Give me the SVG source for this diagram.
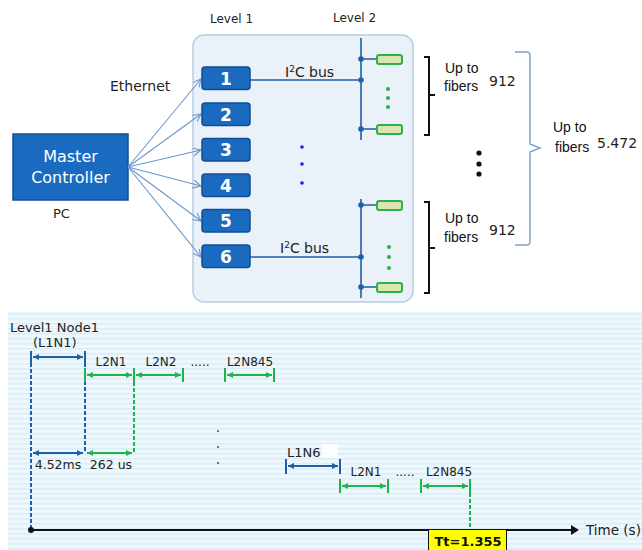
<svg xmlns="http://www.w3.org/2000/svg" width="642" height="550" viewBox="0 0 642 550">
<style>
.t{font-family:"DejaVu Sans",Verdana,sans-serif;fill:#222}
.s{font-family:"Liberation Sans",Arial,sans-serif;fill:#111}
.nd{fill:#1a6bc0;stroke:#0f4f94;stroke-width:1.5}
.nt{font-family:"DejaVu Sans",Verdana,sans-serif;font-weight:bold;font-size:17px;fill:#fff;text-anchor:middle}
.leaf{fill:#d9e6b0;stroke:#2bb14a;stroke-width:2}
.bus{stroke:#1f5fa8;stroke-width:1.6;fill:none}
.fan{stroke:#6b98c9;stroke-width:1.1;fill:none;marker-end:url(#oa)}
.bd{stroke:#1f5fa8;stroke-width:2;fill:none}
.gd{stroke:#22b14c;stroke-width:2;fill:none}
.bda{stroke:#1f5fa8;stroke-width:2;fill:none;marker-start:url(#ab);marker-end:url(#ab)}
.gda{stroke:#22b14c;stroke-width:2;fill:none;marker-start:url(#ag);marker-end:url(#ag)}
.dash{stroke-dasharray:4 2}
</style>
<defs>
<marker id="oa" markerWidth="10" markerHeight="10" refX="8" refY="4" orient="auto" markerUnits="userSpaceOnUse">
<path d="M0,0 L8,4 L0,8" fill="none" stroke="#6b98c9" stroke-width="1.1"/>
</marker>
<marker id="ab" markerWidth="7" markerHeight="6" refX="6" refY="3" orient="auto-start-reverse" markerUnits="userSpaceOnUse">
<path d="M0,0 L6,3 L0,6 z" fill="#1f5fa8"/>
</marker>
<marker id="ag" markerWidth="7" markerHeight="6" refX="6" refY="3" orient="auto-start-reverse" markerUnits="userSpaceOnUse">
<path d="M0,0 L6,3 L0,6 z" fill="#22b14c"/>
</marker>
<marker id="ta" markerWidth="9" markerHeight="10" refX="1" refY="5" orient="auto" markerUnits="userSpaceOnUse">
<path d="M0,0 L8,5 L0,10 z" fill="#111"/>
</marker>
<pattern id="stripes" width="8" height="5" patternUnits="userSpaceOnUse">
<rect width="8" height="5" fill="#eef8fc"/>
<rect y="3" width="8" height="1.5" fill="#d9eef7"/>
</pattern>
</defs>
<rect width="642" height="550" fill="#fff"/>
<rect x="8" y="312" width="634" height="238" fill="url(#stripes)"/>

<!-- top labels -->
<text class="t" x="210" y="23" font-size="12">Level 1</text>
<text class="t" x="333" y="22" font-size="12">Level  2</text>
<text class="t" x="110" y="91" font-size="14">Ethernet</text>

<g id="panel">
<rect x="193" y="35" width="220" height="267" rx="11" fill="#eaf1f9" stroke="#b7cde3" stroke-width="1.5"/>
</g>

<g id="master">
<rect class="nd" x="13" y="134" width="115" height="66"/>
<text x="70.5" y="162" font-family="DejaVu Sans,Verdana,sans-serif" font-size="16" fill="#fff" text-anchor="middle">Master</text>
<text x="70.5" y="183" font-family="DejaVu Sans,Verdana,sans-serif" font-size="16" fill="#fff" text-anchor="middle">Controller</text>
<text class="t" x="53" y="218" font-size="13">PC</text>
</g>

<g id="connectors">
<path class="fan" d="M128,167 L201,79"/>
<path class="fan" d="M128,167 L201,114"/>
<path class="fan" d="M128,167 L201,150"/>
<path class="fan" d="M128,167 L201,186"/>
<path class="fan" d="M128,167 L201,221"/>
<path class="fan" d="M128,167 L201,257"/>
<path class="bus" d="M250,80 H361 M361,38 V140 M361,59 H377 M361,129 H377"/>
<path class="bus" d="M250,257 H361 M361,199 V298 M361,205 H377 M361,287 H377"/>
</g>

<g id="n1"><rect class="nd" x="202" y="67" width="48" height="22.5" rx="3"/><text class="nt" x="226" y="84.5">1</text></g>
<g id="n2"><rect class="nd" x="202" y="103" width="48" height="22.5" rx="3"/><text class="nt" x="226" y="120.5">2</text></g>
<g id="n3"><rect class="nd" x="202" y="138.5" width="48" height="22.5" rx="3"/><text class="nt" x="226" y="156">3</text></g>
<g id="n4"><rect class="nd" x="202" y="174" width="48" height="22.5" rx="3"/><text class="nt" x="226" y="191.5">4</text></g>
<g id="n5"><rect class="nd" x="202" y="209.5" width="48" height="22.5" rx="3"/><text class="nt" x="226" y="227">5</text></g>
<g id="n6"><rect class="nd" x="202" y="245" width="48" height="22.5" rx="3"/><text class="nt" x="226" y="262.5">6</text></g>

<g id="mid-dots" fill="#1a1af0">
<circle cx="302" cy="147" r="1.8"/><circle cx="302" cy="164" r="1.8"/><circle cx="302" cy="183" r="1.8"/>
</g>

<g id="bus-labels">
<text class="t" x="285" y="77" font-size="14">I<tspan font-size="9" dy="-5">2</tspan><tspan dy="5">C bus</tspan></text>
<text class="t" x="280" y="253" font-size="14">I<tspan font-size="9" dy="-5">2</tspan><tspan dy="5">C bus</tspan></text>
</g>

<g id="level2-top">
<g fill="#1f5fa8"><circle cx="361" cy="59" r="2.8"/><circle cx="361" cy="80" r="2.8"/><circle cx="361" cy="129" r="2.8"/></g>
<rect class="leaf" x="377" y="55" width="25" height="9" rx="2"/>
<rect class="leaf" x="377" y="125" width="25" height="9" rx="2"/>
<g fill="#2bb14a"><circle cx="388" cy="89" r="2"/><circle cx="388" cy="98" r="2"/><circle cx="388" cy="107" r="2"/></g>
</g>
<g id="level2-bottom">
<g fill="#1f5fa8"><circle cx="361" cy="205" r="2.8"/><circle cx="361" cy="257" r="2.8"/><circle cx="361" cy="287" r="2.8"/></g>
<rect class="leaf" x="377" y="201" width="25" height="9" rx="2"/>
<rect class="leaf" x="377" y="283" width="25" height="9" rx="2"/>
<g fill="#2bb14a"><circle cx="389" cy="247" r="2"/><circle cx="389" cy="257" r="2"/><circle cx="389" cy="268" r="2"/></g>
</g>

<g id="brackets" fill="none" stroke="#111" stroke-width="2">
<path d="M424,57 H429 V135 H424 M429,95 H435"/>
<path d="M424,202 H429 V293 H424 M429,248 H435"/>
</g>
<g id="big-brace">
<path d="M515,52 H527 Q530,52 530,56 V144 L540,148 L530,152 V241 Q530,245 527,245 H515" fill="none" stroke="#7fa3cc" stroke-width="1.5"/>
</g>
<g id="fiber-labels">
<text class="s" x="445" y="73" font-size="14">Up to</text>
<text class="s" x="444" y="91" font-size="14">fibers</text>
<text class="t" x="489" y="86" font-size="14">912</text>
<text class="s" x="445" y="223" font-size="14">Up to</text>
<text class="s" x="444" y="242" font-size="14">fibers</text>
<text class="t" x="489" y="235" font-size="14">912</text>
<text class="s" x="553" y="132" font-size="14">Up to</text>
<text class="s" x="555" y="152" font-size="14">fibers</text>
<text class="t" x="597" y="148" font-size="14">5.472</text>
</g>
<g id="black-dots" fill="#111">
<circle cx="479" cy="153" r="2.6"/><circle cx="479" cy="164" r="2.6"/><circle cx="479" cy="174" r="2.6"/>
</g>

<!-- timing diagram -->
<g id="timing">
<text class="t" x="10" y="332" font-size="13">Level1 Node1</text>
<text class="t" x="33" y="347" font-size="13">(L1N1)</text>
<path class="bd" d="M31,351 V363 M85,351 V363"/>
<path class="bda" d="M33,357 H83"/>
<path class="bd dash" d="M31,363 V530 M85,363 V453"/>

<text class="t" x="111" y="366" font-size="12" text-anchor="middle">L2N1</text>
<text class="t" x="161" y="366" font-size="12" text-anchor="middle">L2N2</text>
<text class="t" x="200" y="366" font-size="12" text-anchor="middle" fill="#555">.....</text>
<text class="t" x="250" y="366" font-size="12" text-anchor="middle">L2N845</text>
<path class="gd" d="M85,368 V382 M134,368 V382 M183,368 V382 M225,368 V382 M274,368 V382"/>
<path class="gda" d="M87,375 H132"/>
<path class="gda" d="M136,375 H181"/>
<path class="gda" d="M227,375 H272"/>
<path class="gd dash" d="M134,382 V453"/>

<path class="bda" d="M33,453 H83"/>
<path class="gda" d="M87,453 H132"/>
<text class="t" x="58" y="469" font-size="12.5" text-anchor="middle">4.52ms</text>
<text class="t" x="111" y="469" font-size="12.5" text-anchor="middle">262 us</text>

<g fill="#555"><circle cx="218" cy="431" r="1.1"/><circle cx="218" cy="447" r="1.1"/><circle cx="218" cy="463" r="1.1"/></g>

<rect x="322" y="444" width="16" height="14" fill="#fff" opacity="0.8"/>
<text class="t" x="287" y="457" font-size="13">L1N6</text>
<path class="bd" d="M286,459 V474 M340,459 V474"/>
<path class="bda" d="M288,466 H338"/>
<text class="t" x="366" y="476" font-size="12" text-anchor="middle">L2N1</text>
<text class="t" x="405" y="476" font-size="12" text-anchor="middle" fill="#555">.....</text>
<text class="t" x="449" y="476" font-size="12" text-anchor="middle">L2N845</text>
<path class="gd" d="M340,479 V493 M388,479 V493 M421,479 V493 M470,479 V493"/>
<path class="gda" d="M342,486 H386"/>
<path class="gda" d="M423,486 H468"/>
<path class="gd dash" d="M470,493 V530"/>

<path d="M31,530 H572" stroke="#111" stroke-width="2" fill="none" marker-end="url(#ta)"/>
<circle cx="31" cy="530" r="3" fill="#111"/>
<text class="t" x="586" y="535" font-size="13.5">Time (s)</text>
<rect x="428.5" y="529.5" width="78" height="22" fill="#ffff00" stroke="#111" stroke-width="1"/>
<text x="468" y="546" font-family="DejaVu Sans,Verdana,sans-serif" font-weight="bold" font-size="13" fill="#111" text-anchor="middle">Tt=1.355</text>
</g>
</svg>
